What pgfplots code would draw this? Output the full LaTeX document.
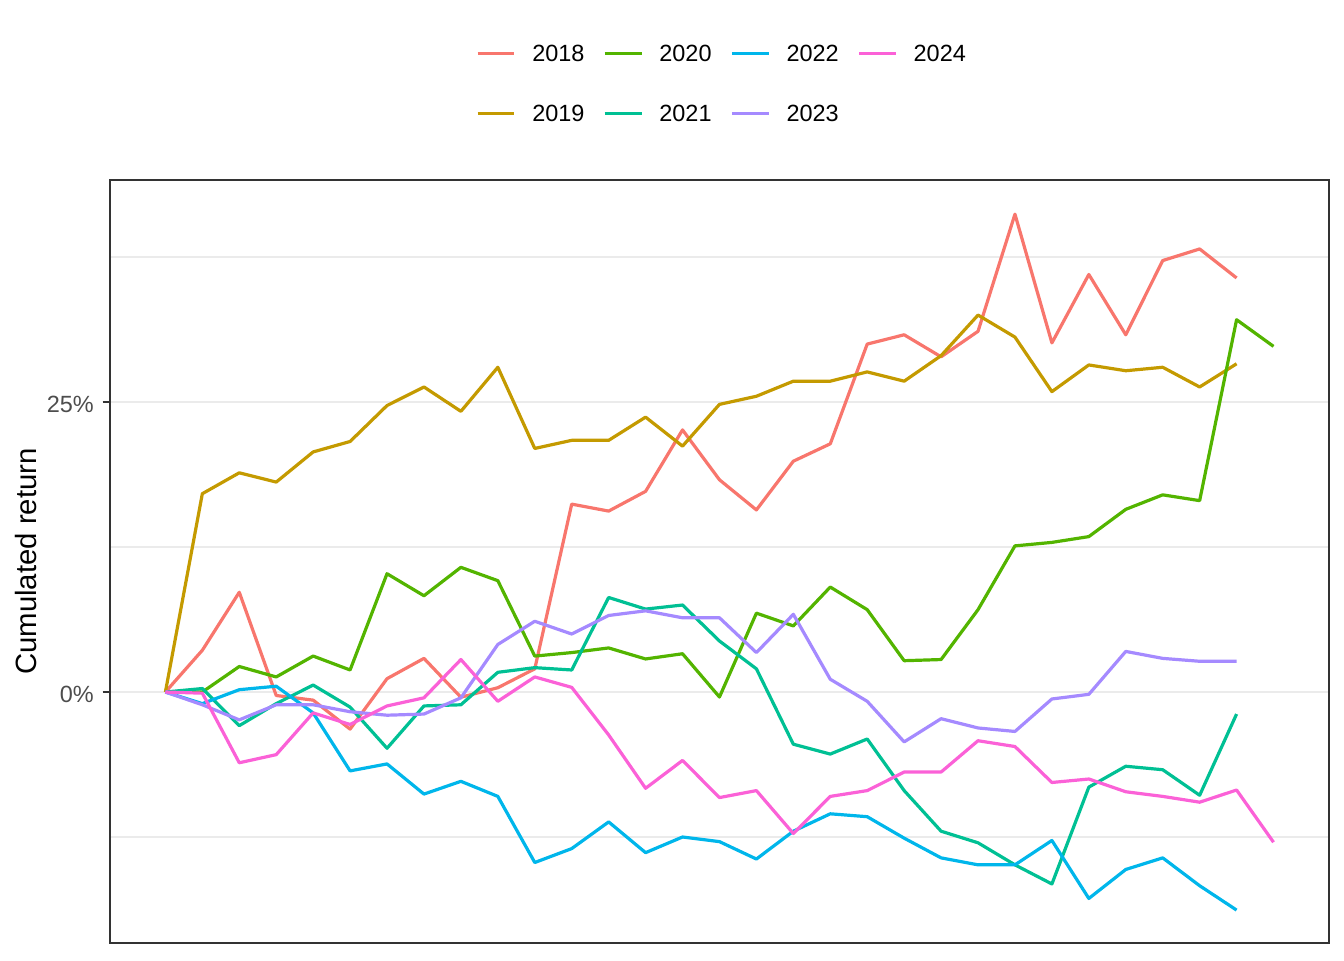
\documentclass[border=0pt]{standalone}
\usepackage{pgfplots}
\pgfplotsset{compat=1.18}
\usepackage{fontspec}
\setmainfont{Liberation Sans}
\definecolor{c18}{HTML}{F8766D}
\definecolor{c19}{HTML}{C49A00}
\definecolor{c20}{HTML}{53B400}
\definecolor{c21}{HTML}{00C094}
\definecolor{c22}{HTML}{00B6EB}
\definecolor{c23}{HTML}{A58AFF}
\definecolor{c24}{HTML}{FB61D7}
\definecolor{gridc}{HTML}{EBEBEB}
\definecolor{framec}{HTML}{333333}
\definecolor{tickc}{HTML}{4D4D4D}
\begin{document}
\begin{tikzpicture}
\path[use as bounding box] (0,0) rectangle (504pt,360pt);
\begin{axis}[
  at={(41.25pt,6.375pt)}, anchor=south west,
  scale only axis, width=457.1pt, height=286.1pt,
  xmin=-1.5, xmax=31.5, ymin=-21.64, ymax=44.14,
  xtick=\empty,
  ytick={0,25}, yticklabels={0\%,25\%},
  minor ytick={-12.5,12.5,37.5},
  ymajorgrids, yminorgrids,
  major grid style={draw=gridc, line width=1pt},
  minor grid style={draw=gridc, line width=0.5pt},
  axis line style={draw=framec, line width=0.65pt},
  tick pos=left, tick align=outside,
  major tick length=2.75pt, minor tick length=0pt,
  every tick/.style={draw=framec, line width=0.65pt},
  /pgf/number format/assume math mode=true,
  yticklabel style={font=\fontsize{8.8}{10}\selectfont, text=tickc, anchor=east, inner sep=0pt, xshift=-3.15pt, yshift=-0.8pt},
  ylabel={Cumulated return},
  ylabel style={at={(axis description cs:-0.06904,0.5)}, anchor=center, inner sep=0pt, font=\fontsize{11}{13}\selectfont},
  legend columns=4,
  legend cell align=left,
  legend image code/.code={\draw[#1] (0pt,0pt) -- (13.8pt,0pt);},
  legend style={at={(axis description cs:0.30026,1.1769)}, anchor=north west,
    draw=none, fill=none, inner sep=0pt, outer sep=0pt,
    row sep=16.2pt,
    /tikz/every odd column/.append style={column sep=6.1pt},
    /tikz/every even column/.append style={column sep=7.0pt},
    nodes={inner sep=0pt, text height=6.3pt, text depth=0pt, font=\fontsize{8.8}{10}\selectfont}},
  every axis plot/.append style={line width=1.2pt, line join=round},
]
% 2018
\addplot[c18, forget plot] coordinates {(0,0) (1,3.6) (2,8.6) (3,-0.3) (4,-0.7) (5,-3.2) (6,1.15) (7,2.9) (8,-0.45) (9,0.37) (10,2.0) (11,16.2) (12,15.6) (13,17.3) (14,22.6) (15,18.3) (16,15.7) (17,19.9) (18,21.4) (19,30.0) (20,30.8) (21,28.9) (22,31.1) (23,41.2) (24,30.1) (25,36.0) (26,30.8) (27,37.2) (28,38.2) (29,35.7)};
% 2019
\addplot[c19, forget plot] coordinates {(0,0) (1,17.1) (2,18.9) (3,18.1) (4,20.7) (5,21.6) (6,24.7) (7,26.3) (8,24.2) (9,28.0) (10,21.0) (11,21.7) (12,21.7) (13,23.7) (14,21.2) (15,24.8) (16,25.5) (17,26.8) (18,26.8) (19,27.6) (20,26.8) (21,29.0) (22,32.5) (23,30.6) (24,25.9) (25,28.2) (26,27.7) (27,28.0) (28,26.3) (29,28.3)};
% 2020
\addplot[c20, forget plot] coordinates {(0,0) (1,0) (2,2.2) (3,1.3) (4,3.1) (5,1.9) (6,10.2) (7,8.3) (8,10.75) (9,9.6) (10,3.1) (11,3.4) (12,3.8) (13,2.85) (14,3.3) (15,-0.43) (16,6.8) (17,5.7) (18,9.05) (19,7.1) (20,2.7) (21,2.8) (22,7.1) (23,12.6) (24,12.9) (25,13.4) (26,15.75) (27,17.0) (28,16.5) (29,32.1) (30,29.8)};
% 2021
\addplot[c21, forget plot] coordinates {(0,0) (1,0.3) (2,-2.9) (3,-1.0) (4,0.6) (5,-1.3) (6,-4.85) (7,-1.2) (8,-1.1) (9,1.7) (10,2.1) (11,1.9) (12,8.15) (13,7.15) (14,7.5) (15,4.4) (16,2.0) (17,-4.5) (18,-5.35) (19,-4.05) (20,-8.5) (21,-12.0) (22,-13.0) (23,-14.9) (24,-16.55) (25,-8.2) (26,-6.4) (27,-6.7) (28,-8.9) (29,-1.9)};
% 2022
\addplot[c22, forget plot] coordinates {(0,0) (1,-1.0) (2,0.2) (3,0.5) (4,-1.8) (5,-6.8) (6,-6.2) (7,-8.8) (8,-7.7) (9,-9.0) (10,-14.7) (11,-13.5) (12,-11.2) (13,-13.85) (14,-12.5) (15,-12.9) (16,-14.4) (17,-12.0) (18,-10.5) (19,-10.75) (20,-12.6) (21,-14.3) (22,-14.9) (23,-14.9) (24,-12.8) (25,-17.8) (26,-15.3) (27,-14.3) (28,-16.7) (29,-18.8)};
% 2023
\addplot[c23, forget plot] coordinates {(0,0) (1,-1.1) (2,-2.4) (3,-1.1) (4,-1.1) (5,-1.7) (6,-2.0) (7,-1.9) (8,-0.5) (9,4.1) (10,6.1) (11,5.0) (12,6.6) (13,7.0) (14,6.4) (15,6.4) (16,3.4) (17,6.7) (18,1.1) (19,-0.8) (20,-4.3) (21,-2.3) (22,-3.1) (23,-3.4) (24,-0.6) (25,-0.2) (26,3.5) (27,2.9) (28,2.65) (29,2.65)};
% 2024
\addplot[c24, forget plot] coordinates {(0,0) (1,-0.1) (2,-6.1) (3,-5.4) (4,-1.8) (5,-2.8) (6,-1.2) (7,-0.5) (8,2.8) (9,-0.8) (10,1.3) (11,0.4) (12,-3.7) (13,-8.3) (14,-5.9) (15,-9.1) (16,-8.5) (17,-12.2) (18,-9.0) (19,-8.5) (20,-6.9) (21,-6.9) (22,-4.2) (23,-4.7) (24,-7.8) (25,-7.5) (26,-8.6) (27,-9.0) (28,-9.5) (29,-8.45) (30,-12.95)};
\addlegendimage{c18, line width=1.2pt}\addlegendentry{2018}
\addlegendimage{c20, line width=1.2pt}\addlegendentry{2020}
\addlegendimage{c22, line width=1.2pt}\addlegendentry{2022}
\addlegendimage{c24, line width=1.2pt}\addlegendentry{2024}
\addlegendimage{c19, line width=1.2pt}\addlegendentry{2019}
\addlegendimage{c21, line width=1.2pt}\addlegendentry{2021}
\addlegendimage{c23, line width=1.2pt}\addlegendentry{2023}
\end{axis}
\end{tikzpicture}
\end{document}
